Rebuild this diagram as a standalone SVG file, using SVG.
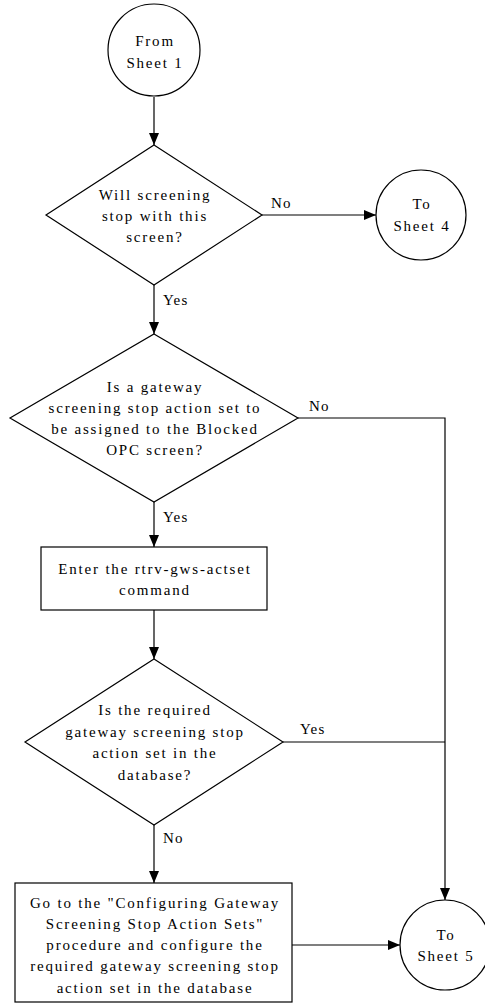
<svg xmlns="http://www.w3.org/2000/svg" width="485" height="1003" viewBox="0 0 485 1003">
<defs>
<marker id="arr" viewBox="0 0 12 10" refX="12" refY="5" markerWidth="12" markerHeight="10" markerUnits="userSpaceOnUse" orient="auto">
<path d="M0,0 L12,5 L0,10 Z" fill="#000"/>
</marker>
</defs>
<style>
.s{fill:#fff;stroke:#000;stroke-width:1.2}
.t{font-family:"Liberation Serif","Times New Roman",serif;font-size:15px;fill:#000;text-anchor:middle;letter-spacing:1.8px}
.l{font-family:"Liberation Serif","Times New Roman",serif;font-size:15px;fill:#000;letter-spacing:1.2px}
.c{fill:none;stroke:#000;stroke-width:1.2}
</style>
<rect width="485" height="1003" fill="#fff"/>
<g id="connectors">
<path class="c" d="M154,97 L154,145" marker-end="url(#arr)"/>
<path class="c" d="M262,215 L376,215" marker-end="url(#arr)"/>
<path class="c" d="M154,285 L154,334" marker-end="url(#arr)"/>
<path class="c" d="M298,418 L445,418 L445,900" marker-end="url(#arr)"/>
<path class="c" d="M154,502 L154,547" marker-end="url(#arr)"/>
<path class="c" d="M154,610 L154,659" marker-end="url(#arr)"/>
<path class="c" d="M283,742 L445,742"/>
<path class="c" d="M154,825 L154,883" marker-end="url(#arr)"/>
<path class="c" d="M292,945 L400,945" marker-end="url(#arr)"/>
<text class="l" x="271" y="208">No</text>
<text class="l" x="163" y="305">Yes</text>
<text class="l" x="309" y="411">No</text>
<text class="l" x="163" y="522">Yes</text>
<text class="l" x="300" y="734">Yes</text>
<text class="l" x="163" y="843">No</text>
</g>
<g id="from1">
<circle class="s" cx="154" cy="50" r="46"/>
<text class="t" x="155" y="46">From</text>
<text class="t" x="155" y="68">Sheet 1</text>
</g>
<g id="d1">
<polygon class="s" points="154,145 262,215 154,285 46,215"/>
<text class="t" x="155" y="200">Will screening</text>
<text class="t" x="155" y="221">stop with this</text>
<text class="t" x="155" y="242">screen?</text>
</g>
<g id="to4">
<circle class="s" cx="421" cy="215" r="45"/>
<text class="t" x="422" y="209">To</text>
<text class="t" x="422" y="231">Sheet 4</text>
</g>
<g id="d2">
<polygon class="s" points="154,334 298,418 154,502 10,418"/>
<text class="t" x="155" y="392">Is a gateway</text>
<text class="t" x="155" y="413">screening stop action set to</text>
<text class="t" x="155" y="434">be assigned to the Blocked</text>
<text class="t" x="155" y="455">OPC screen?</text>
</g>
<g id="r1">
<rect class="s" x="41" y="547" width="226" height="63"/>
<text class="t" x="155" y="574">Enter the rtrv-gws-actset</text>
<text class="t" x="155" y="595">command</text>
</g>
<g id="d3">
<polygon class="s" points="154,659 283,742 154,825 25,742"/>
<text class="t" x="155" y="715">Is the required</text>
<text class="t" x="155" y="737">gateway screening stop</text>
<text class="t" x="155" y="758">action set in the</text>
<text class="t" x="155" y="780">database?</text>
</g>
<g id="r2">
<rect class="s" x="15" y="883" width="277" height="119"/>
<text class="t" x="155" y="908">Go to the "Configuring Gateway</text>
<text class="t" x="155" y="929">Screening Stop Action Sets"</text>
<text class="t" x="155" y="950">procedure and configure the</text>
<text class="t" x="155" y="971">required gateway screening stop</text>
<text class="t" x="155" y="993">action set in the database</text>
</g>
<g id="to5">
<circle class="s" cx="445" cy="945" r="45"/>
<text class="t" x="446" y="940">To</text>
<text class="t" x="446" y="961">Sheet 5</text>
</g>
</svg>
